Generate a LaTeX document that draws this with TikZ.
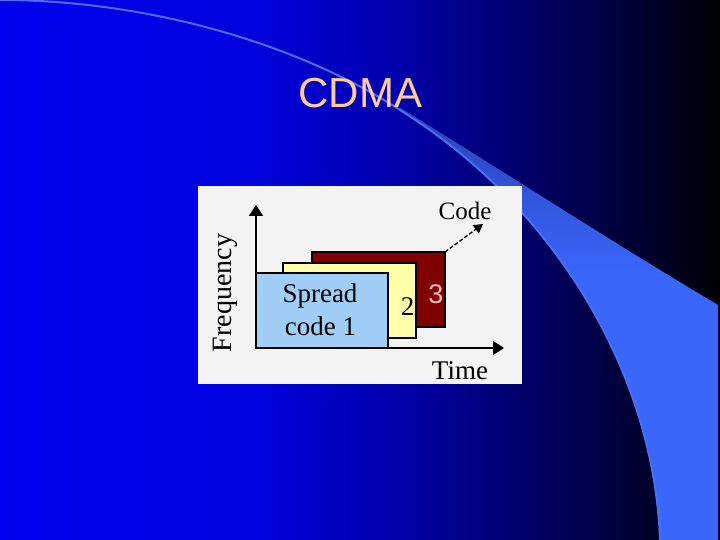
\documentclass[tikz,border=0pt]{standalone}
\usepackage{fontspec}
\setmainfont{Liberation Serif}
\newfontfamily\arialfont{Liberation Sans}
\usetikzlibrary{arrows.meta}
\definecolor{bga}{RGB}{0,0,238}
\definecolor{bgb}{RGB}{0,0,222}
\definecolor{bgc}{RGB}{0,0,170}
\definecolor{bgd}{RGB}{0,0,108}
\definecolor{bge}{RGB}{0,0,58}
\definecolor{bgf}{RGB}{0,0,4}
\definecolor{wdark}{RGB}{40,66,185}
\definecolor{wbright}{RGB}{58,102,250}
\definecolor{arcc}{RGB}{72,112,245}
\definecolor{titlec}{RGB}{255,204,153}
\definecolor{panelc}{RGB}{243,243,243}
\definecolor{bluebox}{RGB}{160,206,246}
\definecolor{yellowbox}{RGB}{255,255,170}
\definecolor{redbox}{RGB}{128,0,0}
\definecolor{pinkc}{RGB}{255,185,185}
\begin{document}
\begin{tikzpicture}[x=1pt,y=-1pt,
  cbox/.style={draw=black, line width=1.3pt, inner sep=0pt, outer sep=0pt,
    anchor=north west, minimum width=133pt, minimum height=75pt},
  lbl/.style={font=\fontsize{27}{30}\selectfont, anchor=base, inner sep=0pt},
  axisline/.style={line width=1.5pt, -{Triangle[length=11pt,width=14pt]}}]
\useasboundingbox (0,0) rectangle (720,540);
% background
\fill[left color=bga,right color=bgb] (0,0) rectangle (251,540);
\fill[left color=bgb,right color=bgc] (250,0) rectangle (401,540);
\fill[left color=bgc,right color=bgd] (400,0) rectangle (521,540);
\fill[left color=bgd,right color=bge] (520,0) rectangle (621,540);
\fill[left color=bge,right color=bgf] (620,0) rectangle (720,540);
% wedge
\begin{scope}
\clip (400,107.5) .. controls (520,182) and (625,250) .. (718,305) -- (718,541) -- (400,541) -- cycle;
\clip (0,0) .. controls (150,0) and (300,45) .. (400,110) .. controls (560,210) and (655,380) .. (660,541) -- (720,541) -- (720,0) -- cycle;
\fill[top color=wdark,bottom color=wbright] (400,105) rectangle (720,275);
\fill[wbright] (400,274) rectangle (720,541);
\end{scope}
\draw[arcc, line width=2pt] (0,0) .. controls (150,0) and (300,45) .. (400,110) .. controls (560,210) and (655,380) .. (660,541);
% title
\node[font=\arialfont\fontsize{42}{48}\selectfont, text=titlec, anchor=base, inner sep=0pt] (title) at (360.5,108) {CDMA};
% panel
\node[fill=panelc, inner sep=0pt, outer sep=0pt, anchor=north west, minimum width=324pt, minimum height=198pt] (panel) at (198,186) {};
% boxes
\node[cbox, fill=redbox] (b3) at (312,252) {};
\node[cbox, fill=yellowbox] (b2) at (283,263) {};
\node[cbox, fill=bluebox, minimum width=132pt] (b1) at (256,273) {};
% axes
\coordinate (o) at (256,348);
\coordinate (ytip) at (256,205);
\coordinate (xtip) at (504,348);
\draw[axisline] (o) -- (ytip);
\draw[axisline] (o) -- (xtip);
\draw[line width=2pt] (b1.south west) -- (b1.south east);
% labels
\node[lbl] (sp) at (320,302) {Spread};
\node[lbl] (c1) at (320.5,335) {code 1};
\node[lbl] (n2) at (407.5,315) {2};
\node[lbl, font=\arialfont\fontsize{27}{30}\selectfont, text=pinkc] (n3) at (436,303) {3};
\node[lbl, font=\fontsize{25}{28}\selectfont] (code) at (465,220) {Code};
\node[lbl] (time) at (460,379) {Time};
\node[lbl, font=\fontsize{28}{30}\selectfont, rotate=90] (freq) at (231,293) {Frequency};
% code arrow
\coordinate (cend) at (483,224);
\draw[line width=1.3pt, dash pattern=on 4pt off 2pt, -{Triangle[length=9pt,width=10pt]}] (b3.north east) -- (cend);
\end{tikzpicture}
\end{document}
